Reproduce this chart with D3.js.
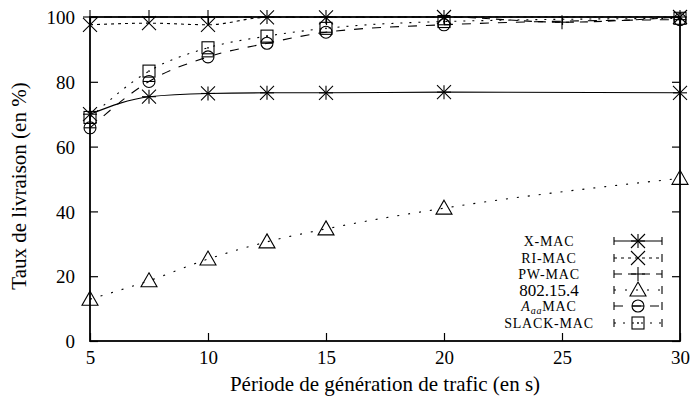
<!DOCTYPE html>
<html><head><meta charset="utf-8">
<script src="https://cdn.jsdelivr.net/npm/d3@7/dist/d3.min.js"></script>
<style>body{margin:0;background:#fff}svg{display:block}</style>
</head><body><svg id="c" width="695" height="403"></svg>
<script>
const xTicks = [5, 10, 15, 20, 25, 30];
const yTicks = [0, 20, 40, 60, 80, 100];
const seriesNames = ["X-MAC", "RI-MAC", "PW-MAC", "802.15.4", "AaaMAC", "SLACK-MAC"];
const xMacX = [5, 7.5, 10, 12.5, 15, 20, 30];
const xMacY = [70, 75.4, 76.4, 76.6, 76.6, 76.8, 76.6];
const riMacX = [5, 7.5, 10, 12.5, 15, 20, 30];
const riMacY = [97.6, 98.1, 97.6, 99.9, 99.9, 100, 100];
const pwMacX = [5, 7.5, 10, 12.5, 15, 20, 25, 30];
const pwMacY = [100, 100, 100, 100, 100, 100, 98.4, 100];
const ieeeX = [5, 7.5, 10, 12.5, 15, 20, 30];
const ieeeY = [12.9, 18.6, 25.3, 30.6, 34.6, 41, 50.2];
const aaaMacX = [5, 7.5, 10, 12.5, 15, 20, 30];
const aaaMacY = [65.8, 80.1, 87.7, 91.9, 95.3, 97.6, 99.2];
const slackMacX = [5, 7.5, 10, 12.5, 15, 20, 30];
const slackMacY = [69, 83.3, 90.5, 94.1, 96.5, 98.6, 99.6];

const FONT = '"Liberation Serif","Times New Roman","DejaVu Serif","Noto Serif",serif';
const svg = d3.select("#c").attr("font-family", FONT);
const L = 90, R = 680, T = 17, B = 341;
const x = d3.scaleLinear().domain([5, 30]).range([L, R]);
const y = d3.scaleLinear().domain([0, 100]).range([B, T]);

const series = [
  {name: seriesNames[0], xs: xMacX, ys: xMacY, dash: null, mark: "star"},
  {name: seriesNames[1], xs: riMacX, ys: riMacY, dash: "3,4", mark: "cross"},
  {name: seriesNames[2], xs: pwMacX, ys: pwMacY, dash: "8,6", mark: "plus"},
  {name: seriesNames[3], xs: ieeeX, ys: ieeeY, dash: "2,9", mark: "tri"},
  {name: seriesNames[4], xs: aaaMacX, ys: aaaMacY, dash: "9,9", mark: "circle"},
  {name: seriesNames[5], xs: slackMacX, ys: slackMacY, dash: "2,7", mark: "square"}
];

function drawMark(g, kind, cx, cy) {
  const s = 7;
  const ln = (x1, y1, x2, y2) => g.append("line").attr("x1", x1).attr("y1", y1).attr("x2", x2).attr("y2", y2).attr("stroke", "#000").attr("stroke-width", 1.1);
  if (kind === "star") { ln(cx - s, cy - s, cx + s, cy + s); ln(cx - s, cy + s, cx + s, cy - s); ln(cx - s, cy, cx + s, cy); ln(cx, cy - s, cx, cy + s); }
  else if (kind === "cross") { ln(cx - s, cy - s, cx + s, cy + s); ln(cx - s, cy + s, cx + s, cy - s); }
  else if (kind === "plus") { ln(cx - s, cy, cx + s, cy); ln(cx, cy - s, cx, cy + s); }
  else if (kind === "tri") { g.append("path").attr("d", `M${cx},${cy - 8}L${cx + 8},${cy + 6}L${cx - 8},${cy + 6}Z`).attr("stroke", "#000").attr("stroke-width", 1.1).attr("fill", "none"); }
  else if (kind === "circle") { g.append("circle").attr("cx", cx).attr("cy", cy).attr("r", 6).attr("stroke", "#000").attr("stroke-width", 1.1).attr("fill", "none"); ln(cx - 6, cy, cx + 6, cy); }
  else if (kind === "square") { g.append("rect").attr("x", cx - 6).attr("y", cy - 6).attr("width", 12).attr("height", 12).attr("stroke", "#000").attr("stroke-width", 1.1).attr("fill", "none"); g.append("circle").attr("cx", cx).attr("cy", cy).attr("r", 0.9).attr("fill", "#000"); }
}

const gx = svg.append("g").attr("transform", `translate(0,${B})`)
  .call(d3.axisBottom(x).tickValues(xTicks).tickSizeInner(-8).tickSizeOuter(0).tickPadding(13));
const gxt = svg.append("g").attr("transform", `translate(0,${T})`)
  .call(d3.axisTop(x).tickValues(xTicks).tickSizeInner(-8).tickSizeOuter(0).tickFormat(""));
const gy = svg.append("g").attr("transform", `translate(${L},0)`)
  .call(d3.axisLeft(y).tickValues(yTicks).tickSizeInner(-8).tickSizeOuter(0).tickPadding(15));
const gyr = svg.append("g").attr("transform", `translate(${R},0)`)
  .call(d3.axisRight(y).tickValues(yTicks).tickSizeInner(-8).tickSizeOuter(0).tickFormat(""));
[gx, gxt, gy, gyr].forEach(g => { g.attr("font-family", FONT); g.select(".domain").remove(); g.selectAll("line").attr("stroke", "#000").attr("stroke-width", 1.2); });
[gx, gy].forEach(g => g.selectAll("text").attr("font-size", 19).attr("font-family", FONT).attr("fill", "#000"));
gy.selectAll("text").attr("dy", "0.35em");
gx.selectAll("text").attr("dy", "0.5em");

const line = d3.line().x(d => x(d[0])).y(d => y(d[1])).curve(d3.curveMonotoneX);
series.forEach(s => {
  const pts = s.xs.map((v, i) => [v, s.ys[i]]);
  svg.append("path").datum(pts).attr("d", line).attr("fill", "none").attr("stroke", "#000")
    .attr("stroke-width", 1.1).attr("stroke-dasharray", s.dash);
  const g = svg.append("g");
  pts.forEach(p => drawMark(g, s.mark, x(p[0]), y(p[1])));
});

svg.append("rect").attr("x", L).attr("y", T).attr("width", R - L).attr("height", B - T)
  .attr("fill", "none").attr("stroke", "#000").attr("stroke-width", 1.8);

const legY = [241, 258, 274, 290, 306, 323];
series.forEach((s, i) => {
  const yy = legY[i];
  const t = svg.append("text").attr("x", 549).attr("y", yy).attr("dy", "0.33em").attr("text-anchor", "middle")
    .attr("font-family", FONT).attr("font-size", s.name === "802.15.4" ? 17 : 14).attr("letter-spacing", s.name === "802.15.4" ? 0 : 0.8);
  if (s.name === "AaaMAC") {
    t.append("tspan").text("A").attr("font-style", "italic");
    t.append("tspan").text("aa").attr("font-style", "italic").attr("font-size", 10).attr("dy", "3");
    t.append("tspan").text("MAC").attr("dy", "-3");
  } else t.text(s.name);
  const g = svg.append("g");
  g.append("line").attr("x1", 614).attr("x2", 662).attr("y1", yy).attr("y2", yy).attr("stroke", "#000").attr("stroke-width", 1.1).attr("stroke-dasharray", s.dash);
  [614, 662].forEach(xx => g.append("line").attr("x1", xx).attr("x2", xx).attr("y1", yy - 4).attr("y2", yy + 4).attr("stroke", "#000").attr("stroke-width", 1.1));
  drawMark(g, s.mark, 638, yy);
});

svg.append("text").attr("x", 385).attr("y", 391).attr("text-anchor", "middle").attr("font-size", 21).attr("font-family", FONT)
  .text("Période de génération de trafic (en s)");
svg.append("text").attr("transform", "translate(26,186) rotate(-90)").attr("text-anchor", "middle").attr("font-size", 21).attr("font-family", FONT)
  .text("Taux de livraison (en %)");
</script></body></html>
